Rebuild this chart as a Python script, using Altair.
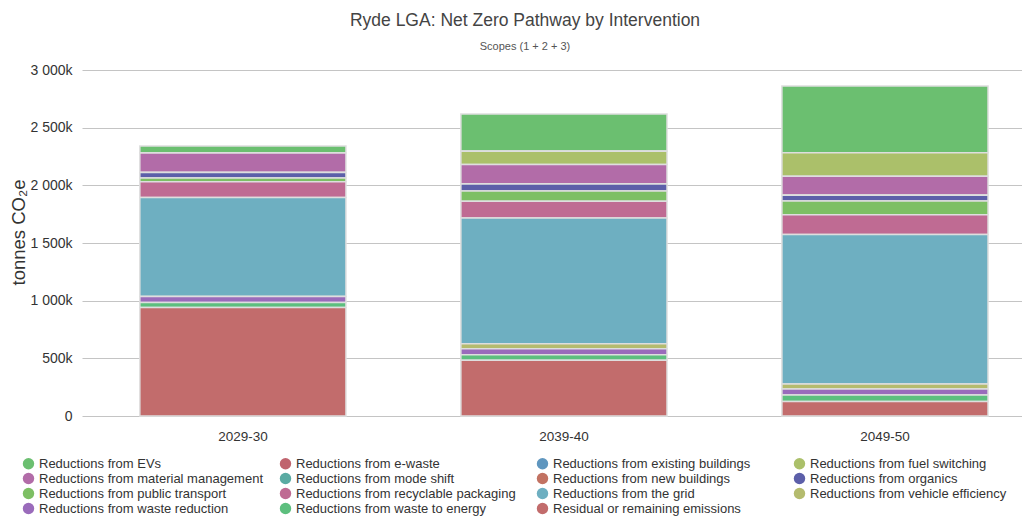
import altair as alt
import pandas as pd

periods = ["2029-30", "2039-40", "2049-50"]

categories = [
    "Reductions from EVs",
    "Reductions from e-waste",
    "Reductions from existing buildings",
    "Reductions from fuel switching",
    "Reductions from material management",
    "Reductions from mode shift",
    "Reductions from new buildings",
    "Reductions from organics",
    "Reductions from public transport",
    "Reductions from recyclable packaging",
    "Reductions from the grid",
    "Reductions from vehicle efficiency",
    "Reductions from waste reduction",
    "Reductions from waste to energy",
    "Residual or remaining emissions",
]

colors = [
    "#6bbf70", "#c0646e", "#5f96bf", "#abc06a", "#b26ca8",
    "#5aaba3", "#c27262", "#5c5fa9", "#7dbf64", "#bf6b93",
    "#6eafc1", "#b4bb6e", "#9a6bbb", "#5dbf7e", "#c26c6c",
]

# tonnes CO2e per category, one list per period (same order as categories)
values_2029 = [61000, 0, 0, 0, 169000, 0, 0, 48000, 32000, 137000, 858000, 0, 52000, 43000, 941000]
values_2039 = [323000, 0, 0, 114000, 169000, 0, 0, 61000, 88000, 146000, 1091000, 43000, 51000, 48000, 484000]
values_2049 = [579000, 0, 0, 204000, 164000, 0, 0, 50000, 120000, 171000, 1296000, 42000, 53000, 56000, 126000]

y_ticks = [0, 500000, 1000000, 1500000, 2000000, 2500000, 3000000]

rows = []
for period, vals in zip(periods, [values_2029, values_2039, values_2049]):
    for i, (cat, v) in enumerate(zip(categories, vals)):
        rows.append({"period": period, "category": cat, "value": v,
                     "rank": len(categories) - 1 - i})
df = pd.DataFrame(rows)

FONT = "Liberation Sans"

chart = alt.Chart(df).mark_bar(stroke="#dedede", strokeWidth=1.5).encode(
    x=alt.X("period:N", sort=periods,
            scale=alt.Scale(paddingInner=0.358, paddingOuter=0.143, align=0.63),
            axis=alt.Axis(title=None, labelAngle=0, ticks=False, domain=False,
                          labelFontSize=13.5, labelColor="#333", labelPadding=13,
                          labelFont=FONT)),
    y=alt.Y("value:Q", stack="zero",
            scale=alt.Scale(domain=[0, 3000000], nice=False),
            axis=alt.Axis(title="tonnes CO\u2082e", values=y_ticks, ticks=False,
                          domain=False, labelFontSize=14, labelColor="#333",
                          labelPadding=10, labelFont=FONT,
                          labelExpr="datum.value == 0 ? '0' : replace(format(datum.value / 1000, ','), ',', ' ') + 'k'",
                          titleFontSize=18.5, titleColor="#333", titleFont=FONT,
                          titleFontWeight="normal", titleBaseline="middle",
                          titleX=-64, titleY=162,
                          gridColor="#c4c4c4", gridWidth=1)),
    color=alt.Color("category:N",
                    scale=alt.Scale(domain=categories, range=colors),
                    legend=alt.Legend(title=None, orient="none", legendX=-60, legendY=387,
                                      columns=4, direction="horizontal",
                                      gridAlign="all", columnPadding=16, rowPadding=1,
                                      symbolType="circle", symbolSize=130,
                                      symbolStrokeWidth=0, symbolOpacity=1,
                                      labelFontSize=13, labelColor="#333",
                                      labelFont=FONT, labelLimit=400)),
    order=alt.Order("rank:Q", sort="ascending"),
    tooltip=["period", "category", "value"],
).properties(
    width=940,
    height=346,
    title=alt.TitleParams(
        text="Ryde LGA: Net Zero Pathway by Intervention",
        subtitle="Scopes (1 + 2 + 3)",
        fontSize=17.5, font=FONT, fontWeight="normal", color="#444",
        subtitleFontSize=11, subtitleFont=FONT, subtitleColor="#555",
        subtitlePadding=12, anchor="middle", dx=-27, offset=11,
    ),
    autosize=alt.AutoSizeParams(type="none"),
    padding={"left": 74, "top": 62, "right": 0, "bottom": 100},
).configure_view(stroke=None)

chart.save("out.html", embed_options={"renderer": "svg", "actions": False})
